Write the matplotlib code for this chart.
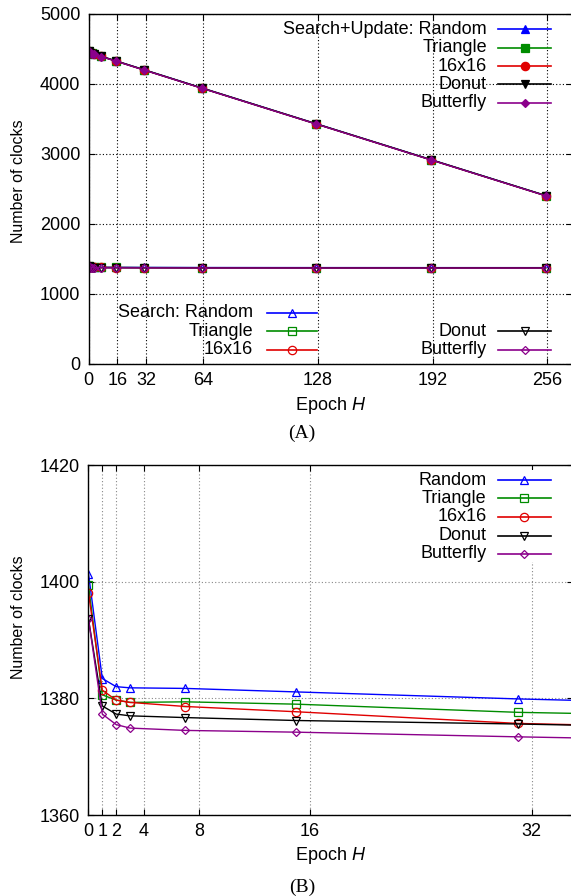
import matplotlib
matplotlib.use("Agg")
import matplotlib.pyplot as plt
from matplotlib.patches import Rectangle

plt.rcParams['font.family'] = ['Liberation Sans', 'DejaVu Sans']
plt.rcParams['mathtext.fontset'] = 'custom'
plt.rcParams['mathtext.rm'] = 'Liberation Sans'
plt.rcParams['mathtext.it'] = 'Liberation Sans:italic'

# ---- data -------------------------------------------------------------
epochs = [0, 1, 2, 3, 7, 15, 31, 63, 127, 191, 255]
layouts = ['Random', 'Triangle', '16x16', 'Donut', 'Butterfly']

search_random = [1401.4, 1383.4, 1382.0, 1381.8, 1381.7, 1381.1, 1379.9, 1378.0, 1377.2, 1376.8, 1376.5]
search_triangle = [1399.4, 1380.6, 1379.7, 1379.3, 1379.4, 1379.0, 1377.6, 1376.2, 1375.5, 1375.1, 1374.8]
search_16x16 = [1398.1, 1381.4, 1379.7, 1379.3, 1378.6, 1377.7, 1375.7, 1374.0, 1373.2, 1372.8, 1372.5]
search_donut = [1393.6, 1378.7, 1377.3, 1377.0, 1376.7, 1376.2, 1375.6, 1374.1, 1373.4, 1373.0, 1372.8]
search_butterfly = [1393.6, 1377.3, 1375.5, 1374.9, 1374.5, 1374.2, 1373.4, 1372.0, 1371.4, 1371.0, 1370.8]

both_random = [4472, 4447, 4438, 4430, 4397, 4333, 4204, 3946, 3433, 2921, 2408]
both_triangle = [4470, 4445, 4436, 4427, 4395, 4331, 4202, 3944, 3431, 2919, 2407]
both_16x16 = [4469, 4445, 4436, 4427, 4394, 4330, 4200, 3942, 3429, 2917, 2404]
both_donut = [4465, 4442, 4433, 4425, 4393, 4329, 4200, 3942, 3429, 2917, 2405]
both_butterfly = [4465, 4441, 4432, 4423, 4391, 4327, 4198, 3940, 3427, 2915, 2403]

search_series = [search_random, search_triangle, search_16x16, search_donut, search_butterfly]
both_series = [both_random, both_triangle, both_16x16, both_donut, both_butterfly]

ticks_a_x = [0, 16, 32, 64, 128, 192, 256]
ticks_a_y = [0, 1000, 2000, 3000, 4000, 5000]
ticks_b_x = [0, 1, 2, 4, 8, 16, 32]
ticks_b_y = [1360, 1380, 1400, 1420]

# ---- styles -----------------------------------------------------------
colors = ['#0000ff', '#008c00', '#e00000', '#000000', '#8b008b']
markers = ['^', 's', 'o', 'v', 'D']
msizes = [6.0, 5.8, 6.0, 6.0, 4.5]
FS = 13

W, H = 571, 896
fig = plt.figure(figsize=(W / 100, H / 100), dpi=100)


def frame(ax, grid_color):
    ax.tick_params(direction='in', length=4, width=0.8, top=True, right=True,
                   labelsize=FS, pad=6)
    ax.grid(True, linestyle=(0, (1, 2)), color=grid_color, linewidth=0.8)
    ax.set_axisbelow(True)
    for s in ax.spines.values():
        s.set_linewidth(1.0)
    ax.set_ylabel('Number of clocks', fontsize=11.5)
    ax.set_xlabel('Epoch $H$', fontsize=FS)


def key_entry(ax, label, i, y, xt, x0, x1, filled):
    ax.text(xt, y, label, transform=ax.transAxes, ha='right', va='center',
            fontsize=FS, zorder=6)
    ax.plot([x0, x1], [y, y], transform=ax.transAxes, color=colors[i],
            lw=1.2, clip_on=False, zorder=6)
    ax.plot([(x0 + x1) / 2], [y], transform=ax.transAxes, marker=markers[i],
            ms=msizes[i], color=colors[i],
            mfc=colors[i] if filled else 'none', mew=0.9, clip_on=False, zorder=6)


# ---- panel A ----------------------------------------------------------
axA = fig.add_axes([88.7 / W, 1 - 364 / H, 483.7 / W, 350 / H])
for i in range(5):
    axA.plot(epochs, both_series[i], color=colors[i], lw=1.0,
             marker=markers[i], ms=msizes[i], mfc=colors[i], mew=0.9)
for i in range(5):
    axA.plot(epochs, search_series[i], color=colors[i], lw=1.0,
             marker=markers[i], ms=msizes[i], mfc='none', mew=0.9)
axA.set_xlim(0, 270)
axA.set_ylim(0, 5000)
axA.set_xticks(ticks_a_x)
axA.set_yticks(ticks_a_y)
frame(axA, 'black')
axA.xaxis.set_label_coords(0.5, -42 / 350)
axA.xaxis.label.set_va('center')
axA.yaxis.set_label_coords(-70 / 483.7, (364 - 181) / 350)
axA.yaxis.label.set_va('center')

rows_top = [0.956, 0.904, 0.851, 0.799, 0.747]
labels_top = ['Search+Update: Random'] + layouts[1:]
for i in range(5):
    key_entry(axA, labels_top[i], i, rows_top[i], 0.823, 0.847, 0.955, True)

rows_low = [0.147, 0.093, 0.040]
labels_low = ['Search: Random', 'Triangle', '16x16']
for i in range(3):
    key_entry(axA, labels_low[i], i, rows_low[i], 0.340, 0.368, 0.473, False)
for k, i in enumerate([3, 4]):
    key_entry(axA, layouts[i], i, rows_low[k + 1], 0.823, 0.847, 0.955, False)

fig.text(302 / W, 1 - 433 / H, '(A)', ha='center', va='center',
         family=['Liberation Serif', 'DejaVu Serif'], fontsize=14)

# ---- panel B ----------------------------------------------------------
axB = fig.add_axes([88.45 / W, 1 - 815 / H, 484.75 / W, 350 / H])
for i in range(5):
    axB.plot(epochs, search_series[i], color=colors[i], lw=1.0,
             marker=markers[i], ms=msizes[i], mfc='none', mew=0.9)
axB.set_xlim(0, 35)
axB.set_ylim(1360, 1420)
axB.set_xticks(ticks_b_x)
axB.set_yticks(ticks_b_y)
frame(axB, '#888888')
axB.xaxis.set_label_coords(0.5, -40 / 350)
axB.xaxis.label.set_va('center')
axB.yaxis.set_label_coords(-70 / 484.75, (815 - 617) / 350)
axB.yaxis.label.set_va('center')

axB.add_patch(Rectangle((0.663, 0.723), 0.31, 0.263, transform=axB.transAxes,
                        facecolor='white', edgecolor='none', zorder=5))
rows_b = [0.957, 0.905, 0.852, 0.798, 0.747]
for i in range(5):
    key_entry(axB, layouts[i], i, rows_b[i], 0.8216, 0.8447, 0.954, False)

fig.text(302 / W, 1 - 887 / H, '(B)', ha='center', va='center',
         family=['Liberation Serif', 'DejaVu Serif'], fontsize=14)

fig.savefig('out.png', dpi=100)
